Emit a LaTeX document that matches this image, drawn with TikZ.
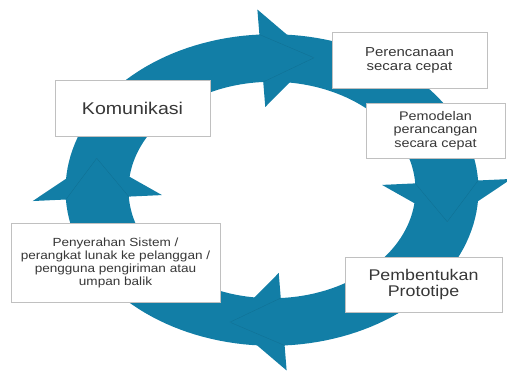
\documentclass[tikz,border=0pt]{standalone}
\usepackage{fontspec}
\setmainfont[FakeStretch=1.15]{Liberation Sans}
\usepackage{tikz}

\definecolor{siklusbiru}{RGB}{18,126,166}
\definecolor{teksabu}{RGB}{55,55,55}
\definecolor{garisabu}{RGB}{192,192,192}

\tikzset{
	kotak/.style={draw=garisabu, line width=0.8pt, fill=white, text=teksabu, align=center, inner sep=2pt},
	keliman/.style={draw=siklusbiru!88!black, line width=0.3pt, line join=round},
}

% one arrow of the cycle: #1 = angle of its tail, #2 = angle of the back of its head
\newcommand{\panahsiklus}[2]{%
	\fill[siklusbiru] ({1.18*cos(#1)},{1.18*sin(#1)})
		-- plot[domain=#1:#2, samples=40] ({1.18*cos(\x)},{1.18*sin(\x)})
		-- ({1.37*cos(#2)},{1.37*sin(#2)})
		-- ({1.03*cos(#2-17)},{1.03*sin(#2-17)})
		-- ({0.63*cos(#2)},{0.63*sin(#2)})
		-- plot[domain=#2:#1, samples=40] ({0.82*cos(\x)},{0.82*sin(\x)})
		-- ({1.03*cos(#1-17)},{1.03*sin(#1-17)}) -- cycle;
}
% seam where a head meets the notched tail of the next arrow
\newcommand{\kelimsiklus}[1]{%
	\draw[keliman] ({0.82*cos(#1)},{0.82*sin(#1)}) -- ({1.03*cos(#1-17)},{1.03*sin(#1-17)}) -- ({1.18*cos(#1)},{1.18*sin(#1)});
}

\begin{document}
\begin{tikzpicture}[x=1pt,y=1pt]
	\useasboundingbox (0,0) rectangle (507,372);

	\begin{scope}[shift={(272pt,182pt)}, x=175pt, y=132pt]
		\panahsiklus{183.5}{93.5}
		\panahsiklus{93.5}{3.5}
		\panahsiklus{3.5}{-86.5}
		\panahsiklus{273.5}{183.5}
		\kelimsiklus{93.5}
		\kelimsiklus{3.5}
		\kelimsiklus{-86.5}
		\kelimsiklus{183.5}
	\end{scope}

	\node(kom) [kotak, minimum width=155pt, minimum height=56pt, font=\fontsize{17}{19}\selectfont] at (132.5,264) {Komunikasi};
	\node(renc) [kotak, minimum width=155pt, minimum height=56pt, font=\fontsize{13}{14}\selectfont] at (409.5,312) {Perencanaan\\secara cepat};
	\node(model) [kotak, minimum width=139pt, minimum height=55pt, font=\fontsize{12.5}{13.5}\selectfont] at (435.5,241.5) {Pemodelan\\perancangan\\secara cepat};
	\node(bentuk) [kotak, minimum width=157pt, minimum height=55pt, font=\fontsize{15.5}{16}\selectfont] at (423.5,87.5) {Pembentukan\\Prototipe};
	\node(serah) [kotak, minimum width=209pt, minimum height=79pt, font=\fontsize{11.8}{13}\selectfont] at (115.5,109.5) {Penyerahan Sistem /\\perangkat lunak ke pelanggan /\\pengguna pengiriman atau\\umpan balik};

\end{tikzpicture}
\end{document}
